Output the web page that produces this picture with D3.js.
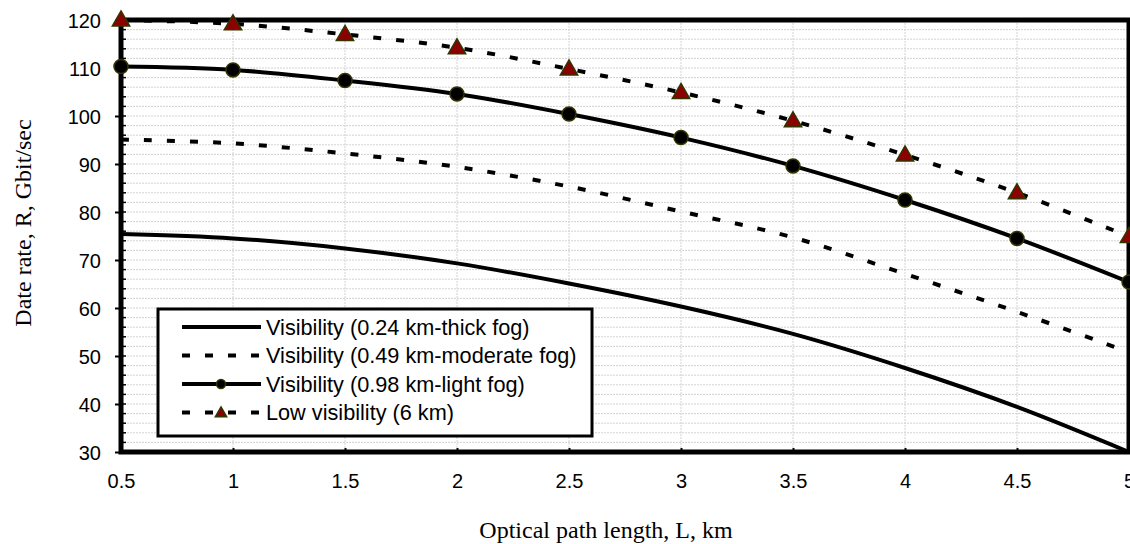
<!DOCTYPE html>
<html>
<head>
<meta charset="utf-8">
<script src="https://cdn.jsdelivr.net/npm/d3@7"></script>
<style>
  body { margin: 0; background: #fff; }
  svg { display: block; }
</style>
</head>
<body>
<svg></svg>
<script>
// data
var lengths = [0.5, 1, 1.5, 2, 2.5, 3, 3.5, 4, 4.5, 5];
var thickFog = [75.4, 74.5, 72.4, 69.3, 65.1, 60.3, 54.6, 47.5, 39.4, 30.0];
var moderateFog = [95.1, 94.3, 92.2, 89.4, 85.3, 80.1, 74.7, 67.1, 59.2, 50.8];
var lightFog = [110.3, 109.6, 107.4, 104.6, 100.4, 95.5, 89.6, 82.5, 74.5, 65.4];
var lowVisibility = [120.0, 119.2, 117.0, 114.2, 109.8, 104.9, 99.0, 91.9, 84.0, 74.9];
var seriesNames = [
  "Visibility (0.24 km-thick fog)",
  "Visibility (0.49 km-moderate fog)",
  "Visibility (0.98 km-light fog)",
  "Low  visibility (6 km)"
];
var xTicks = [0.5, 1, 1.5, 2, 2.5, 3, 3.5, 4, 4.5, 5];
var yTicks = [30, 40, 50, 60, 70, 80, 90, 100, 110, 120];

var screen = { width: 1130, height: 544 };
var margins = { top: 20, left: 121, right: 1, bottom: 92 };
var width = screen.width - margins.left - margins.right;
var height = screen.height - margins.top - margins.bottom;

var svg = d3.select("svg")
  .attr("width", screen.width)
  .attr("height", screen.height);

var xScale = d3.scaleLinear().domain([0.5, 5]).range([0, width]);
var yScale = d3.scaleLinear().domain([30, 120]).range([height, 0]);

var plot = svg.append("g")
  .attr("transform", "translate(" + margins.left + "," + margins.top + ")");

// grid
plot.selectAll("line.hgrid")
  .data(yScale.ticks(45))
  .enter().append("line")
  .attr("class", "hgrid")
  .attr("x1", 0).attr("x2", width)
  .attr("y1", function(d) { return yScale(d); })
  .attr("y2", function(d) { return yScale(d); })
  .attr("stroke", "#d2d2d2").attr("stroke-width", 1)
  .attr("stroke-dasharray", "2,1");

plot.selectAll("line.vgrid")
  .data(xTicks)
  .enter().append("line")
  .attr("class", "vgrid")
  .attr("y1", 0).attr("y2", height)
  .attr("x1", function(d) { return xScale(d); })
  .attr("x2", function(d) { return xScale(d); })
  .attr("stroke", "#d2d2d2").attr("stroke-width", 1)
  .attr("stroke-dasharray", "2,1");

// minor ticks on left axis (inside)
plot.selectAll("line.minor")
  .data(yScale.ticks(45))
  .enter().append("line")
  .attr("x1", 0).attr("x2", 5)
  .attr("y1", function(d) { return yScale(d); })
  .attr("y2", function(d) { return yScale(d); })
  .attr("stroke", "#000").attr("stroke-width", 1.5);

// axes
var xAxis = d3.axisBottom(xScale).tickValues(xTicks).tickSize(-4).tickPadding(22)
  .tickFormat(function(d) { return String(d); });
var yAxis = d3.axisLeft(yScale).tickValues(yTicks).tickSize(6).tickPadding(14);

var gx = plot.append("g").attr("transform", "translate(0," + height + ")").call(xAxis);
var gy = plot.append("g").call(yAxis);
[gx, gy].forEach(function(g) {
  g.select(".domain").remove();
  g.selectAll(".tick line").attr("stroke", "#000").attr("stroke-width", 2);
  g.selectAll("text")
    .attr("fill", "#000")
    .style("font-family", "'Liberation Sans', Arial, sans-serif")
    .style("font-size", "20px");
});
gy.selectAll("text").attr("dy", "0.36em");

// frame
plot.append("rect")
  .attr("x", 0).attr("y", 0)
  .attr("width", width).attr("height", height)
  .attr("fill", "none").attr("stroke", "#000").attr("stroke-width", 5);

// series
var line = d3.line()
  .x(function(d, i) { return xScale(lengths[i]); })
  .y(function(d) { return yScale(d); })
  .curve(d3.curveCatmullRom);

var allSeries = [
  { values: thickFog, dash: null, marker: null },
  { values: moderateFog, dash: "8,15", marker: null },
  { values: lightFog, dash: null, marker: "circle" },
  { values: lowVisibility, dash: "8,15", marker: "triangle" }
];

allSeries.forEach(function(s) {
  plot.append("path")
    .datum(s.values)
    .attr("d", line)
    .attr("fill", "none")
    .attr("stroke", "#000")
    .attr("stroke-width", 4)
    .attr("stroke-dasharray", s.dash);
});

var triangle = d3.symbol().type(d3.symbolTriangle);

function drawMarker(g, type, x, y, size) {
  if (type == "circle") {
    g.append("circle")
      .attr("cx", x).attr("cy", y).attr("r", size)
      .attr("fill", "#000").attr("stroke", "#333300").attr("stroke-width", 1.5);
  } else if (type == "triangle") {
    g.append("path")
      .attr("d", triangle.size(size)())
      .attr("transform", "translate(" + x + "," + (y + 1) + ")")
      .attr("fill", "#8b0000").attr("stroke", "#333300").attr("stroke-width", 1.5);
  }
}

allSeries.forEach(function(s) {
  if (!s.marker) return;
  s.values.forEach(function(v, i) {
    drawMarker(plot, s.marker, xScale(lengths[i]), yScale(v), s.marker == "circle" ? 7 : 130);
  });
});

// legend
var legend = svg.append("g").attr("transform", "translate(158,309)");
legend.append("rect")
  .attr("x", 0).attr("y", 0).attr("width", 434).attr("height", 127)
  .attr("fill", "#fff").attr("stroke", "#000").attr("stroke-width", 3);

allSeries.forEach(function(s, i) {
  var ly = 18 + i * 28.5;
  legend.append("line")
    .attr("x1", 24).attr("x2", 103)
    .attr("y1", ly).attr("y2", ly)
    .attr("stroke", "#000").attr("stroke-width", 4)
    .attr("stroke-dasharray", s.dash);
  if (s.marker) drawMarker(legend, s.marker, 63, ly, s.marker == "circle" ? 4.5 : 55);
  legend.append("text")
    .attr("x", 108).attr("y", ly)
    .attr("dy", "0.36em")
    .style("font-family", "'Liberation Sans', Arial, sans-serif")
    .style("font-size", "21.7px")
    .text(seriesNames[i]);
});

// axis titles
svg.append("text")
  .attr("x", 606).attr("y", 538)
  .attr("text-anchor", "middle")
  .style("font-family", "'Liberation Serif', 'Times New Roman', serif")
  .style("font-size", "24px")
  .text("Optical path length, L, km");

svg.append("text")
  .attr("transform", "translate(31,223) rotate(-90)")
  .attr("text-anchor", "middle")
  .style("font-family", "'Liberation Serif', 'Times New Roman', serif")
  .style("font-size", "24px")
  .text("Date rate, R, Gbit/sec");
</script>
</body>
</html>
